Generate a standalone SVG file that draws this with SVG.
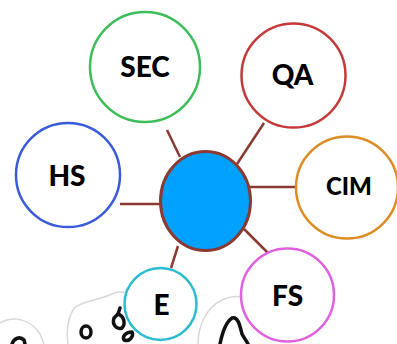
<svg xmlns="http://www.w3.org/2000/svg" width="397" height="344" viewBox="0 0 397 344">
  <style>
    .ring { fill: #ffffff; stroke-width: 2.5; }
    .label { font-family: Lato, "Open Sans", "Liberation Sans", sans-serif; font-weight: 900; fill: #000000; text-anchor: middle; }
    .link { stroke: #8b3a32; stroke-width: 2.5; fill: none; }
    .sketch-bg { fill: none; stroke: #d8d8d8; stroke-width: 1.5; }
    .sketch { fill: none; stroke: #111111; stroke-width: 3.5; stroke-linecap: round; stroke-linejoin: round; }
  </style>

  <!-- partial sketch shapes along the bottom edge -->
  <g id="sketches">
    <path class="sketch-bg" d="M0,323 C12,316 30,318 40,334 L44,344"/>
    <path class="sketch" d="M12,344 C14,338 20,336 24,340 L25,344"/>
    <path class="sketch-bg" d="M68,344 C66,330 68,318 74,308 C84,300 100,300 112,294 C118,291 124,292 128,294"/>
    <ellipse class="sketch" cx="86" cy="332" rx="5" ry="6" stroke-width="3"/>
    <path class="sketch" d="M114,318 C112,324 116,330 122,328 C126,324 124,316 118,314 Z" stroke-width="3"/>
    <path class="sketch" d="M118,314 L120,308" stroke-width="3"/>
    <path class="sketch" d="M124,340 C122,336 126,332 132,332 C134,336 130,342 124,340 Z" stroke-width="3"/>
    <path class="sketch-bg" d="M198,344 C198,326 206,308 222,300 C230,296 238,296 244,297"/>
    <path class="sketch" d="M220,344 C222,334 226,322 232,318 C238,316 240,326 242,334 C244,338 246,340 248,344"/>
  </g>

  <!-- connectors from the hub to each satellite -->
  <g id="connectors">
    <line class="link" x1="167" y1="130" x2="180" y2="157"/>
    <line class="link" x1="264" y1="123" x2="237" y2="164"/>
    <line class="link" x1="250" y1="187" x2="296" y2="187"/>
    <line class="link" x1="120" y1="204" x2="161" y2="204"/>
    <line class="link" x1="244" y1="229" x2="268" y2="253"/>
    <line class="link" x1="178" y1="246" x2="171" y2="268"/>
  </g>

  <g id="hub">
    <ellipse cx="205.5" cy="201" rx="45" ry="49.5" fill="#00a0ff" stroke="#8b3a32" stroke-width="3"/>
  </g>

  <g id="node-sec">
    <circle class="ring" cx="145" cy="67" r="55" stroke="#3dbe5a"/>
    <text class="label" x="145" y="77" font-size="28">SEC</text>
  </g>

  <g id="node-qa">
    <circle class="ring" cx="293.5" cy="75.5" r="52" stroke="#c43a3a"/>
    <text class="label" x="292.5" y="85" font-size="28">QA</text>
  </g>

  <g id="node-hs">
    <circle class="ring" cx="68" cy="175" r="52" stroke="#3a5bd9"/>
    <text class="label" x="67" y="186" font-size="28">HS</text>
  </g>

  <g id="node-cim">
    <circle class="ring" cx="347" cy="187.5" r="51" stroke="#dc8c22"/>
    <text class="label" x="349" y="195" font-size="24">CIM</text>
  </g>

  <g id="node-fs">
    <circle class="ring" cx="287.5" cy="295" r="46.5" stroke="#e060e0"/>
    <text class="label" x="287.5" y="306" font-size="28">FS</text>
  </g>

  <g id="node-e">
    <circle class="ring" cx="160.5" cy="304" r="36" stroke="#2bbbd0"/>
    <text class="label" x="161.5" y="315" font-size="28">E</text>
  </g>
</svg>
